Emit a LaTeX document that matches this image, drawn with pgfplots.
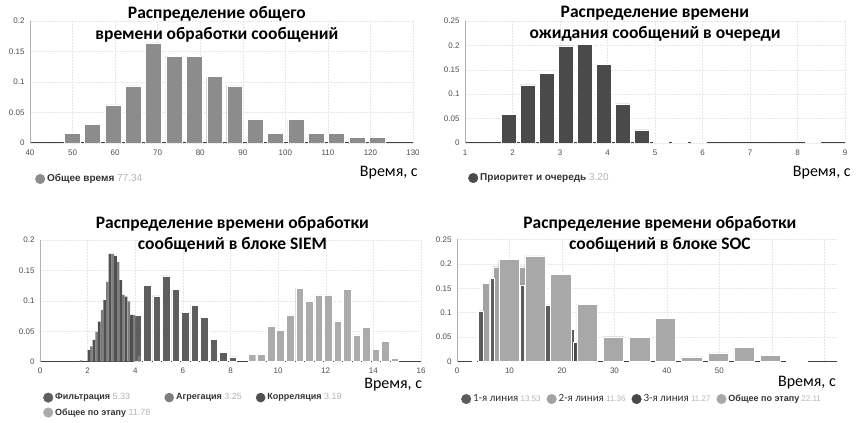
\documentclass[border=0pt]{standalone}
\usepackage{fontspec}
\setmainfont{Liberation Sans}
\newfontfamily\carl{Carlito}
\usepackage{pgfplots}
\pgfplotsset{compat=1.18}
\definecolor{barA}{HTML}{8C8C8C}
\definecolor{barB}{HTML}{4A4A4A}
\definecolor{filt}{HTML}{5E5E5E}
\definecolor{aggr}{HTML}{7E7E7E}
\definecolor{corr}{HTML}{505050}
\definecolor{totS}{HTML}{ABABAB}
\definecolor{lA}{HTML}{5C5C5C}
\definecolor{lB}{HTML}{A3A3A3}
\definecolor{lC}{HTML}{484848}
\definecolor{totC}{HTML}{A8A8A8}
\definecolor{tickc}{HTML}{4D4D4D}
\definecolor{val}{HTML}{B4B4B4}
\definecolor{legc}{HTML}{333333}
\definecolor{gridc}{HTML}{E6E6E6}
\pgfplotsset{
  panel/.style={
    scale only axis, anchor=south west,
    axis x line*=bottom, axis y line*=left,
    x axis line style={draw=black!75, line width=1pt, -},
    y axis line style={draw=black!30, line width=0.5pt, -},
    ymin=0,
    major tick length=0pt,
    ymajorgrids, xmajorgrids,
    major grid style={draw=gridc, line width=0.5pt, dash pattern=on 2pt off 1pt},
    tick label style={font=\fontsize{8}{9}\selectfont, text=tickc},
    /pgf/number format/assume math mode=true,
    xticklabel style={yshift=-3pt},
    yticklabel style={xshift=-2pt},
    title style={font=\carl\bfseries\fontsize{17.5}{21}\selectfont, align=center, anchor=center},
    xlabel style={font=\carl\fontsize{16}{18}\selectfont, anchor=center},
    legend style={draw=none, fill=none, inner sep=0pt, font=\fontsize{10}{12}\selectfont, text=legc,
      legend columns=-1, /tikz/every even column/.append style={column sep=12pt}},
    legend cell align=left,
  },
  hb/.style={ybar, bar shift=0pt, fill=#1, draw=white, line width=0.4pt,
    legend image code/.code={\fill[#1] (0pt,0pt) circle (4.8pt);}},
}
\begin{document}
\begin{tikzpicture}
\useasboundingbox (0,0) rectangle (863pt,423pt);
% Panel 1
\begin{axis}[panel, at={(30pt,280pt)}, width=383pt, height=122pt,
  xmin=40, xmax=130, ymax=0.2, xtick={40,50,...,130},
  ytick={0,0.05,0.1,0.15,0.2}, yticklabels={0,0.05,0.1,0.15,0.2},
  title={Распределение общего\\времени обработки сообщений},
  title style={at={(axis description cs:0.488,0.927)}},
  xlabel={Время, с}, xlabel style={at={(axis description cs:0.937,-0.246)}},
  legend style={at={(axis description cs:0.013,-0.295)}, anchor=west}]
\addplot[hb=barA, bar width=3.75] coordinates {
(49.9,0.016) (54.7,0.031) (59.5,0.0625) (64.2,0.0935) (69.0,0.164) (73.8,0.142)
(78.6,0.142) (83.4,0.109) (88.1,0.0935) (92.9,0.039) (97.7,0.016) (102.5,0.039)
(107.3,0.016) (112.0,0.016) (116.8,0.0087) (121.6,0.0087)};
\addlegendentry{\textbf{Общее время} \textcolor{val}{77.34}}
\end{axis}
% Panel 2
\begin{axis}[panel, at={(465pt,280pt)}, width=380pt, height=122pt,
  xmin=1, xmax=9, ymax=0.25, xtick={1,2,...,9},
  ytick={0,0.05,0.1,0.15,0.2,0.25}, yticklabels={0,0.05,0.1,0.15,0.2,0.25},
  title={Распределение времени\\ожидания сообщений в очереди},
  title style={at={(axis description cs:0.5,0.927)}},
  xlabel={Время, с}, xlabel style={at={(axis description cs:0.939,-0.246)}},
  legend style={at={(axis description cs:0.008,-0.287)}, anchor=west}]
\addplot[hb=barB, bar width=0.32] coordinates {
(1.92,0.058) (2.32,0.119) (2.72,0.143) (3.12,0.199) (3.52,0.2025) (3.92,0.161)
(4.32,0.080) (4.72,0.027) (5.12,0.002) (5.52,0.0015) (5.92,0.0015) (8.32,0.002)};
\addlegendentry{\textbf{Приоритет и очередь} \textcolor{val}{3.20}}
\end{axis}
% Panel 3
\begin{axis}[panel, at={(40pt,61.3pt)}, width=381pt, height=121.7pt,
  xmin=0, xmax=16, ymax=0.2, xtick={0,2,...,16},
  ytick={0,0.05,0.1,0.15,0.2}, yticklabels={0,0.05,0.1,0.15,0.2},
  title={Распределение времени обработки\\сообщений в блоке SIEM},
  title style={at={(axis description cs:0.505,0.996)}},
  xlabel={Время, с}, xlabel style={at={(axis description cs:0.927,-0.191)}},
  legend columns=3,
  legend style={at={(axis description cs:0.008,-0.245)}, anchor=north west, row sep=3pt,
    font=\fontsize{9}{11}\selectfont}]
\addplot[hb=filt, bar width=0.32] coordinates {
(4.1,0.076) (4.5,0.126) (4.9,0.108) (5.3,0.141) (5.7,0.119) (6.1,0.081)
(6.5,0.093) (6.9,0.073) (7.3,0.037) (7.7,0.015) (8.1,0.008)};
\addlegendentry{\textbf{Фильтрация} \textcolor{val}{5.33}}
\addplot[hb=aggr, bar width=0.11, draw=none] coordinates {
(1.72,0.002) (2.16,0.025) (2.38,0.049) (2.61,0.085) (2.83,0.131) (3.05,0.177)
(3.28,0.164) (3.50,0.110) (3.73,0.099) (3.95,0.077) (4.17,0.010)};
\addlegendentry{\textbf{Агрегация} \textcolor{val}{3.25}}
\addplot[hb=corr, bar width=0.11, draw=none] coordinates {
(2.05,0.019) (2.27,0.036) (2.49,0.066) (2.72,0.101) (2.94,0.177) (3.17,0.174)
(3.39,0.134) (3.61,0.107) (3.84,0.077)};
\addlegendentry{\textbf{Корреляция} \textcolor{val}{3.19}}
\addplot[hb=totS, bar width=0.32] coordinates {
(8.9,0.012) (9.3,0.012) (9.7,0.059) (10.1,0.052) (10.5,0.077) (10.9,0.121)
(11.3,0.100) (11.7,0.110) (12.1,0.110) (12.5,0.067) (12.9,0.119) (13.3,0.044)
(13.7,0.056) (14.1,0.020) (14.5,0.033) (14.9,0.006)};
\addlegendentry{\textbf{Общее по этапу} \textcolor{val}{11.78}}
\end{axis}
% Panel 4
\begin{axis}[panel, at={(457pt,61.3pt)}, width=380pt, height=122.4pt,
  xmin=0, xmax=72.4, ymax=0.25, xtick={0,10,...,70}, xticklabels={0,10,20,30,40,50,,},
  ytick={0,0.05,0.1,0.15,0.2,0.25}, yticklabels={0,0.05,0.1,0.15,0.2,0.25},
  title={Распределение времени обработки\\сообщений в блоке SOC},
  title style={at={(axis description cs:0.534,0.991)}},
  xlabel={Время, с}, xlabel style={at={(axis description cs:0.921,-0.174)}},
  legend style={at={(axis description cs:0.0105,-0.305)}, anchor=west,
    font=\fontsize{8}{10}\selectfont,
    /tikz/every even column/.append style={column sep=4pt}}]
\addlegendimage{hb=lA}
\addlegendentry{{\carl\fontsize{11}{12}\selectfont 1-я линия} \textcolor{val}{13.53}}
\addlegendimage{hb=lB}
\addlegendentry{{\carl\fontsize{11}{12}\selectfont 2-я линия} \textcolor{val}{11.36}}
\addlegendimage{hb=lC}
\addlegendentry{{\carl\fontsize{11}{12}\selectfont 3-я линия} \textcolor{val}{11.27}}
\addlegendimage{hb=totC}
\addlegendentry{{\bfseries\fontsize{9}{10}\selectfont Общее по этапу} \textcolor{val}{22.11}}
\addplot[hb=lB, bar width=1.3, forget plot] coordinates {
(5.5,0.160) (7.5,0.194) (12.5,0.194)};
\addplot[hb=lA, bar width=0.9, forget plot] coordinates {
(3.3,0.003) (4.55,0.104) (6.7,0.170) (12.4,0.157) (17.3,0.116) (21.9,0.066)};
\addplot[hb=lC, bar width=0.7, forget plot] coordinates {
(22.5,0.039)};
\addplot[hb=totC, bar width=3.9, forget plot] coordinates {
(9.9,0.209) (14.9,0.216) (19.8,0.179) (24.8,0.117) (29.8,0.051) (34.8,0.050)
(39.7,0.089) (44.7,0.010) (49.8,0.018) (54.7,0.030) (59.7,0.013) (64.7,0.001)};
\end{axis}
\end{tikzpicture}
\end{document}
